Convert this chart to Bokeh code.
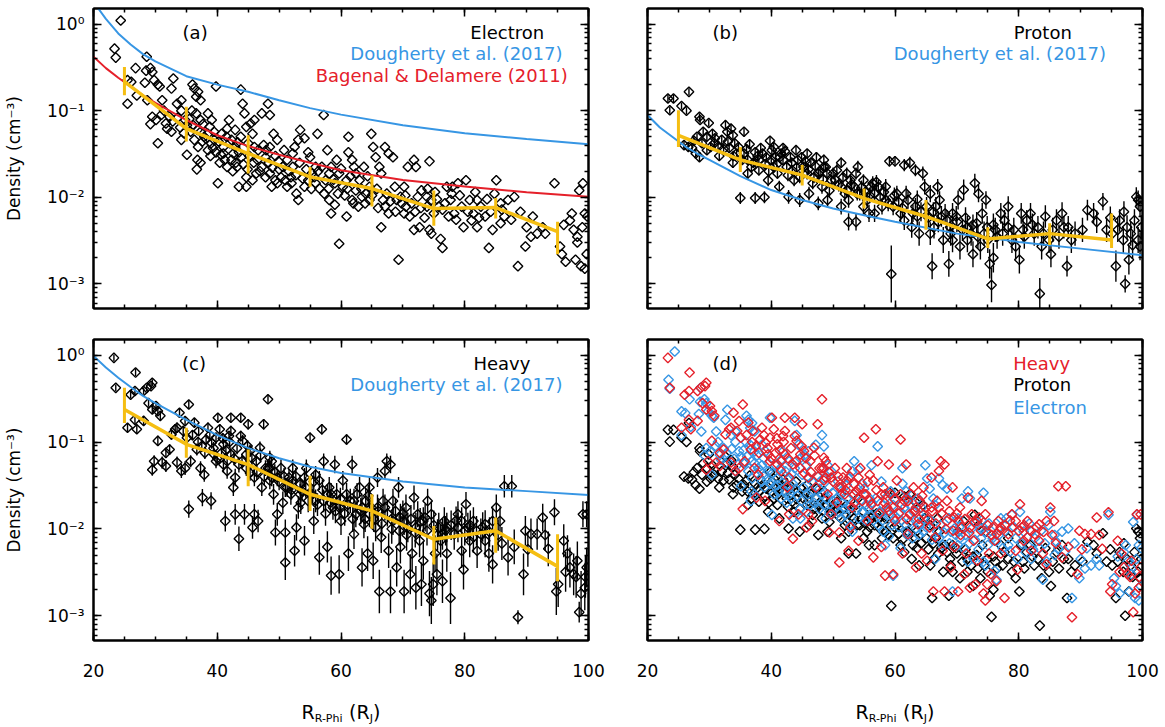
import numpy as np
from bokeh.plotting import figure
from bokeh.layouts import column, row
from bokeh.models import (Range1d, LinearAxis, LogAxis, SingleIntervalTicker,
                          LogTicker, CustomJSTickFormatter, Label)
from bokeh.core.properties import value
from bokeh.embed import file_html
from bokeh.resources import INLINE

FONT = "DejaVu Sans"
BLUE = "#3796e4"
RED = "#e5202a"
GOLD = "#f5be12"

# ---------------------------------------------------------------- data
# electron density samples: (R_R-Phi [R_J], n [cm^-3])
electron = [
    (24.4, 1.1), (23.4, 0.52), (23.6, 0.41), (25.5, 0.225), (26.1, 0.215), (25.5, 0.12),
    (26.8, 0.31), (27.0, 0.15), (28.6, 0.42), (28.5, 0.29), (29.2, 0.31), (29.5, 0.28),
    (28.3, 0.21), (29.8, 0.225), (30.4, 0.2), (30.7, 0.19), (28.7, 0.132), (29.5, 0.085),
    (29.2, 0.07), (30.1, 0.078), (30.4, 0.042), (31.1, 0.132), (31.4, 0.1), (31.7, 0.071),
    (32.3, 0.085), (32.6, 0.057), (32.6, 0.18), (32.9, 0.235), (33.5, 0.12), (34.2, 0.132),
    (34.2, 0.1), (34.8, 0.078), (35.1, 0.068), (34.2, 0.046), (35.1, 0.031), (36.0, 0.2),
    (36.3, 0.18), (36.6, 0.145), (37.3, 0.132), (36.9, 0.165), (35.9, 0.1), (36.6, 0.093),
    (37.3, 0.078), (35.7, 0.057), (36.3, 0.046), (36.9, 0.038), (36.8, 0.027), (37.3, 0.025),
    (36.7, 0.021), (37.6, 0.044), (37.9, 0.05), (38.5, 0.054), (38.8, 0.065), (39.1, 0.078),
    (38.5, 0.093), (39.8, 0.19), (38.5, 0.035), (39.0, 0.042), (39.5, 0.046), (39.8, 0.033),
    (40.1, 0.0145), (40.4, 0.025), (41.0, 0.038), (40.7, 0.054), (41.6, 0.062), (41.9, 0.078),
    (42.3, 0.046), (42.9, 0.038), (42.6, 0.032), (43.5, 0.033), (42.3, 0.027), (41.6, 0.0224),
    (43.2, 0.0224), (43.8, 0.175), (44.1, 0.12), (44.4, 0.093), (44.7, 0.065), (45.4, 0.071),
    (46.0, 0.078), (45.7, 0.054), (45.0, 0.042), (46.0, 0.038), (46.6, 0.035), (43.5, 0.0132),
    (44.7, 0.017), (44.7, 0.0132), (45.7, 0.0157), (46.3, 0.0188), (47.2, 0.0224), (47.8, 0.029),
    (48.5, 0.038), (48.2, 0.12), (48.5, 0.089), (47.2, 0.093), (49.1, 0.054), (49.7, 0.046),
    (48.5, 0.0188), (49.4, 0.0157), (50.0, 0.021), (50.6, 0.0224), (51.0, 0.0157), (51.3, 0.0132),
    (51.9, 0.017), (51.3, 0.027), (52.2, 0.032), (52.5, 0.038), (53.1, 0.046), (54.1, 0.048),
    (53.4, 0.06), (52.8, 0.011), (53.1, 0.0093), (54.1, 0.0132), (54.7, 0.0157), (55.3, 0.0188),
    (55.9, 0.0224), (55.0, 0.029), (54.7, 0.033), (56.2, 0.054), (57.2, 0.089), (55.9, 0.0145),
    (56.5, 0.0126), (57.5, 0.0157), (58.1, 0.0093), (58.4, 0.0065), (59.0, 0.0082), (58.4, 0.0224),
    (59.3, 0.027), (59.7, 0.0188), (59.7, 0.0029), (60.3, 0.0132), (60.9, 0.0157), (61.2, 0.05),
    (61.2, 0.033), (61.8, 0.027), (62.1, 0.0224), (62.4, 0.0188), (63.0, 0.0157), (62.4, 0.012),
    (60.9, 0.006), (61.8, 0.0093), (62.8, 0.0078), (63.7, 0.0224), (64.0, 0.011), (64.6, 0.0132),
    (64.9, 0.054), (65.2, 0.038), (65.6, 0.029), (66.2, 0.0224), (66.5, 0.0188), (66.8, 0.0093),
    (66.5, 0.0045), (67.1, 0.0078), (67.7, 0.0065), (67.1, 0.038), (67.7, 0.032), (68.4, 0.029),
    (68.7, 0.0132), (69.3, 0.0019), (69.6, 0.0101), (70.2, 0.0132), (70.5, 0.0078), (70.8, 0.0224),
    (71.8, 0.027), (72.1, 0.0224), (71.1, 0.006), (71.8, 0.0042), (72.7, 0.0045), (72.4, 0.0101),
    (73.0, 0.012), (73.9, 0.0101), (73.9, 0.0078), (74.3, 0.0042), (74.6, 0.0038), (74.3, 0.026),
    (75.2, 0.0115), (75.8, 0.0078), (76.1, 0.0033), (76.4, 0.0026), (77.1, 0.0132), (77.7, 0.0093),
    (78.3, 0.0065), (78.9, 0.0145), (79.5, 0.0078), (79.8, 0.0045), (80.2, 0.0157), (80.8, 0.0093),
    (81.4, 0.0065), (82.0, 0.0093), (82.6, 0.0078), (83.3, 0.006), (83.9, 0.0026), (84.5, 0.0042),
    (84.8, 0.011), (85.1, 0.0157), (85.8, 0.0085), (86.4, 0.006), (87.0, 0.0093), (88.0, 0.0101),
    (88.6, 0.0016), (89.8, 0.0027), (90.7, 0.0035), (91.7, 0.0038), (92.6, 0.0045), (94.5, 0.0145),
    (95.4, 0.0027), (95.7, 0.0022), (96.3, 0.0018), (97.0, 0.0054), (97.6, 0.0042), (98.2, 0.0035),
    (98.5, 0.012), (99.1, 0.0145), (99.4, 0.0065), (99.7, 0.0022), (97.9, 0.0019), (98.8, 0.0016),
    (99.4, 0.0015), (98.2, 0.003), (37.3, 0.057), (39.5, 0.057), (41.0, 0.032), (42.9, 0.06),
    (43.8, 0.05), (47.8, 0.017), (48.8, 0.0132), (49.7, 0.0145), (52.2, 0.0224), (57.8, 0.035),
    (58.1, 0.0188), (59.0, 0.0145), (63.4, 0.0101), (64.6, 0.0093), (69.0, 0.0093), (70.2, 0.0065),
    (74.6, 0.0093), (76.4, 0.0072), (77.4, 0.006), (78.0, 0.0132), (81.1, 0.0054), (82.0, 0.0045),
    (85.8, 0.005), (31.0, 0.09), (31.9, 0.062), (32.8, 0.075), (33.6, 0.083), (34.0, 0.064),
    (34.6, 0.055), (35.5, 0.08), (36.1, 0.068), (36.8, 0.06), (37.7, 0.07), (38.2, 0.047),
    (38.9, 0.03), (39.3, 0.037), (40.2, 0.044), (40.6, 0.031), (41.2, 0.027), (41.5, 0.05),
    (42.0, 0.042), (42.5, 0.02), (43.0, 0.025), (43.3, 0.043), (43.9, 0.029), (44.2, 0.024),
    (44.9, 0.021), (45.2, 0.03), (45.9, 0.025), (46.5, 0.027), (46.9, 0.02), (47.5, 0.04),
    (47.9, 0.035), (48.3, 0.025), (48.9, 0.022), (49.4, 0.03), (49.9, 0.026), (50.3, 0.017),
    (50.8, 0.035), (51.6, 0.02), (52.0, 0.0145), (52.7, 0.018), (53.3, 0.025), (53.8, 0.0165),
    (54.4, 0.021), (55.2, 0.0125), (55.7, 0.017), (56.3, 0.02), (56.9, 0.0225), (57.3, 0.011),
    (58.0, 0.0125), (58.8, 0.016), (59.5, 0.011), (60.0, 0.0215), (60.6, 0.0105), (61.0, 0.0125),
    (61.5, 0.0175), (62.0, 0.0085), (63.3, 0.0125), (63.9, 0.0085), (64.3, 0.0175), (65.0, 0.0105),
    (65.8, 0.0125), (66.0, 0.0075), (67.4, 0.011), (68.0, 0.009), (68.8, 0.0068), (69.8, 0.0085),
    (70.4, 0.0105), (71.4, 0.0085), (72.0, 0.0068), (72.9, 0.0075), (73.5, 0.0058), (74.0, 0.0125),
    (75.0, 0.0065), (75.5, 0.0095), (76.8, 0.0085), (77.9, 0.011), (78.6, 0.0055), (79.2, 0.0105),
    (80.5, 0.0068), (81.7, 0.0115), (82.3, 0.0058), (83.6, 0.0095), (84.2, 0.0068), (86.0, 0.0072),
    (87.5, 0.0055), (89.0, 0.0068), (90.0, 0.0045), (91.0, 0.006), (93.0, 0.0038), (96.0, 0.0048),
    (97.3, 0.0065), (99.0, 0.0045), (99.8, 0.006),
]

# proton density samples: (R, n, half error bar in dex)
proton = [
    (23.3, 0.138, 0.04), (24.2, 0.138, 0.04), (23.6, 0.101, 0.04), (26.7, 0.165, 0.04),
    (25.5, 0.113, 0.04), (26.3, 0.1, 0.04), (25.9, 0.04, 0.05), (26.6, 0.038, 0.05),
    (27.2, 0.037, 0.05), (28.4, 0.085, 0.04), (28.5, 0.078, 0.04), (29.9, 0.072, 0.04),
    (29.0, 0.057, 0.05), (29.6, 0.05, 0.05), (30.5, 0.054, 0.05), (27.8, 0.032, 0.05),
    (28.4, 0.029, 0.05), (29.6, 0.035, 0.05), (30.8, 0.042, 0.05), (31.4, 0.038, 0.05),
    (32.0, 0.046, 0.05), (32.6, 0.068, 0.05), (32.9, 0.057, 0.05), (33.5, 0.062, 0.05),
    (33.8, 0.052, 0.05), (35.6, 0.057, 0.05), (33.2, 0.037, 0.05), (34.1, 0.042, 0.05),
    (33.8, 0.025, 0.06), (34.4, 0.032, 0.05), (35.0, 0.0098, 0.07), (35.6, 0.032, 0.05),
    (36.2, 0.027, 0.06), (36.8, 0.0224, 0.06), (37.4, 0.033, 0.05), (37.4, 0.0098, 0.07),
    (38.9, 0.01, 0.07), (38.0, 0.027, 0.06), (38.6, 0.032, 0.05), (39.2, 0.029, 0.06),
    (39.8, 0.045, 0.05), (40.1, 0.035, 0.05), (40.7, 0.029, 0.06), (40.4, 0.0224, 0.06),
    (41.0, 0.0188, 0.06), (41.9, 0.027, 0.06), (41.6, 0.032, 0.05), (42.5, 0.0224, 0.06),
    (43.1, 0.029, 0.06), (43.4, 0.0205, 0.06), (43.7, 0.0157, 0.07), (44.3, 0.027, 0.06),
    (44.9, 0.029, 0.06), (45.2, 0.0224, 0.06), (45.8, 0.0188, 0.07), (46.4, 0.025, 0.06),
    (46.7, 0.0145, 0.07), (47.6, 0.0188, 0.07), (47.6, 0.0085, 0.08), (48.5, 0.027, 0.06),
    (48.8, 0.0224, 0.06), (49.7, 0.0157, 0.07), (50.0, 0.0188, 0.07), (50.6, 0.0205, 0.07),
    (51.3, 0.0132, 0.08), (51.9, 0.011, 0.08), (52.5, 0.0052, 0.1), (53.7, 0.0188, 0.07),
    (53.7, 0.0052, 0.1), (54.3, 0.011, 0.08), (54.9, 0.0157, 0.07), (55.5, 0.0093, 0.09),
    (56.1, 0.0132, 0.08), (56.7, 0.0065, 0.1), (57.0, 0.015, 0.08), (57.3, 0.0132, 0.08),
    (57.9, 0.0078, 0.09), (58.5, 0.0093, 0.09), (59.1, 0.026, 0.06), (60.0, 0.026, 0.06),
    (59.4, 0.0013, 0.33), (60.3, 0.011, 0.09), (60.9, 0.0065, 0.1), (61.5, 0.0235, 0.07),
    (62.1, 0.0093, 0.1), (62.4, 0.025, 0.07), (63.3, 0.0205, 0.07), (63.6, 0.006, 0.12),
    (63.9, 0.0038, 0.14), (64.5, 0.0188, 0.08), (64.8, 0.0132, 0.09), (65.1, 0.0078, 0.11),
    (65.7, 0.011, 0.1), (66.0, 0.0016, 0.15), (66.3, 0.0045, 0.13), (66.9, 0.0132, 0.09),
    (67.2, 0.0093, 0.1), (67.5, 0.006, 0.12), (67.8, 0.0032, 0.15), (68.7, 0.0017, 0.15),
    (69.0, 0.0038, 0.14), (69.3, 0.0065, 0.12), (69.9, 0.006, 0.12), (70.5, 0.0027, 0.15),
    (71.1, 0.0122, 0.12), (71.7, 0.0045, 0.13), (72.3, 0.0038, 0.14), (72.9, 0.0145, 0.11),
    (73.2, 0.005, 0.13), (73.5, 0.011, 0.1), (74.1, 0.0065, 0.12), (74.4, 0.0038, 0.14),
    (74.7, 0.0093, 0.1), (75.0, 0.0032, 0.15), (75.3, 0.0017, 0.17), (75.6, 0.00097, 0.2),
    (75.9, 0.002, 0.17), (76.5, 0.0035, 0.14), (77.1, 0.0065, 0.12), (77.7, 0.0054, 0.12),
    (78.3, 0.0045, 0.13), (78.9, 0.0032, 0.15), (79.5, 0.0027, 0.15), (80.1, 0.0019, 0.16),
    (80.7, 0.0042, 0.14), (81.3, 0.0054, 0.12), (81.9, 0.0065, 0.12), (82.5, 0.0038, 0.14),
    (83.4, 0.00077, 0.18), (83.7, 0.0027, 0.15), (84.3, 0.006, 0.13), (84.9, 0.0032, 0.15),
    (85.5, 0.0042, 0.14), (86.1, 0.0054, 0.13), (87.0, 0.0065, 0.13), (87.8, 0.0016, 0.12),
    (88.5, 0.0032, 0.15), (89.1, 0.0038, 0.14), (91.1, 0.0071, 0.12), (92.1, 0.0065, 0.12),
    (93.6, 0.0089, 0.1), (94.2, 0.0042, 0.14), (95.1, 0.0038, 0.14), (95.7, 0.0016, 0.18),
    (96.3, 0.0054, 0.13), (96.9, 0.0032, 0.15), (97.2, 0.001, 0.1), (97.5, 0.0045, 0.14),
    (97.8, 0.0019, 0.17), (98.1, 0.0038, 0.14), (98.7, 0.0054, 0.13), (99.0, 0.0101, 0.11),
    (99.3, 0.0032, 0.15), (99.6, 0.0078, 0.12), (99.6, 0.0027, 0.16), (99.3, 0.0093, 0.11),
    (36.2, 0.0188, 0.06), (38.0, 0.0205, 0.06), (39.5, 0.0157, 0.07), (41.3, 0.0132, 0.07),
    (42.8, 0.0101, 0.08), (44.6, 0.0093, 0.08), (46.1, 0.011, 0.08), (48.2, 0.0132, 0.08),
    (49.1, 0.0093, 0.09), (51.3, 0.0078, 0.09), (52.5, 0.0093, 0.09), (53.4, 0.0132, 0.08),
    (54.9, 0.0078, 0.09), (55.8, 0.0065, 0.1), (56.7, 0.011, 0.09), (58.5, 0.0132, 0.09),
    (59.7, 0.0078, 0.1), (61.5, 0.0054, 0.11), (62.7, 0.0045, 0.12), (63.3, 0.0078, 0.1),
    (65.7, 0.0038, 0.13), (66.6, 0.0078, 0.11), (68.4, 0.0054, 0.12), (69.3, 0.0032, 0.14),
    (70.2, 0.0093, 0.11), (71.7, 0.0032, 0.14), (72.6, 0.0022, 0.15), (73.8, 0.0027, 0.15),
    (76.2, 0.0042, 0.14), (78.3, 0.0078, 0.12), (80.4, 0.0065, 0.12), (83.1, 0.0045, 0.13),
    (85.2, 0.0022, 0.15), (87.3, 0.0045, 0.13), (40.4, 0.038, 0.05), (41.9, 0.037, 0.05),
    (44.0, 0.035, 0.05), (45.8, 0.032, 0.05), (47.3, 0.029, 0.06), (48.5, 0.0224, 0.06),
    (51.3, 0.025, 0.06), (52.2, 0.0188, 0.07), (52.8, 0.0157, 0.07), (54.0, 0.0224, 0.07),
    (27.5, 0.045, 0.04), (28.0, 0.05, 0.04), (28.8, 0.042, 0.05), (30.2, 0.038, 0.05),
    (30.9, 0.048, 0.05), (31.6, 0.03, 0.05), (32.3, 0.036, 0.05), (33.0, 0.044, 0.05),
    (33.9, 0.03, 0.05), (34.7, 0.038, 0.05), (35.3, 0.027, 0.05), (36.0, 0.036, 0.05),
    (36.5, 0.041, 0.05), (37.1, 0.025, 0.06), (37.8, 0.03, 0.05), (38.3, 0.037, 0.05),
    (39.0, 0.024, 0.06), (39.6, 0.02, 0.06), (40.0, 0.027, 0.06), (40.9, 0.024, 0.06),
    (41.4, 0.029, 0.06), (42.2, 0.034, 0.05), (42.7, 0.018, 0.07), (43.3, 0.025, 0.06),
    (44.1, 0.022, 0.06), (44.6, 0.017, 0.07), (45.5, 0.026, 0.06), (46.0, 0.021, 0.06),
    (46.9, 0.017, 0.07), (47.1, 0.023, 0.06), (47.9, 0.02, 0.07), (48.4, 0.016, 0.07),
    (49.0, 0.019, 0.07), (49.4, 0.012, 0.08), (50.3, 0.016, 0.07), (50.9, 0.014, 0.08),
    (51.6, 0.017, 0.07), (52.2, 0.012, 0.08), (53.0, 0.014, 0.08), (53.9, 0.011, 0.08),
    (54.6, 0.013, 0.08), (55.2, 0.0115, 0.08), (55.9, 0.0105, 0.09), (56.4, 0.0145, 0.08),
    (57.6, 0.01, 0.09), (58.2, 0.0115, 0.09), (58.9, 0.0085, 0.09), (59.9, 0.0105, 0.09),
    (60.6, 0.0088, 0.1), (61.2, 0.0075, 0.1), (61.8, 0.011, 0.09), (62.9, 0.0065, 0.1),
    (63.6, 0.0095, 0.1), (64.2, 0.0068, 0.11), (65.4, 0.0058, 0.11), (66.2, 0.0068, 0.11),
    (67.0, 0.0052, 0.12), (68.1, 0.0065, 0.11), (68.9, 0.0045, 0.12), (70.0, 0.0052, 0.12),
    (70.9, 0.0042, 0.13), (71.4, 0.0058, 0.12), (72.6, 0.0048, 0.12), (73.4, 0.0035, 0.14),
    (74.9, 0.0045, 0.13), (75.9, 0.0048, 0.13), (77.4, 0.0038, 0.14), (79.2, 0.0042, 0.14),
    (80.9, 0.0035, 0.14), (82.2, 0.0048, 0.13), (84.0, 0.0038, 0.14), (86.5, 0.0035, 0.14),
    (88.0, 0.0045, 0.13), (90.3, 0.0042, 0.14), (92.6, 0.0052, 0.13), (94.8, 0.0058, 0.13),
    (96.0, 0.0042, 0.14), (98.4, 0.0028, 0.16), (99.8, 0.0045, 0.14), (97.0, 0.0068, 0.12),
]

# heavy ion density samples: (R, n, half error bar in dex)
heavy = [
    (23.3, 0.93, 0.04), (23.6, 0.42, 0.04), (25.5, 0.146, 0.05), (26.0, 0.35, 0.04),
    (26.7, 0.386, 0.04), (26.8, 0.63, 0.04), (26.7, 0.18, 0.05), (28.1, 0.175, 0.05),
    (27.0, 0.14, 0.05), (28.1, 0.386, 0.04), (28.6, 0.42, 0.04), (29.5, 0.48, 0.04),
    (29.3, 0.44, 0.04), (28.9, 0.28, 0.04), (29.5, 0.237, 0.05), (30.1, 0.26, 0.05),
    (30.4, 0.227, 0.05), (30.8, 0.2, 0.05), (29.5, 0.048, 0.07), (29.8, 0.06, 0.07),
    (31.1, 0.058, 0.07), (31.7, 0.053, 0.07), (30.4, 0.103, 0.06), (31.7, 0.075, 0.06),
    (32.3, 0.082, 0.06), (32.6, 0.122, 0.06), (33.2, 0.14, 0.06), (33.5, 0.146, 0.06),
    (33.9, 0.217, 0.05), (34.8, 0.174, 0.05), (35.4, 0.27, 0.05), (34.5, 0.134, 0.06),
    (35.1, 0.112, 0.06), (35.4, 0.0169, 0.1), (33.5, 0.058, 0.07), (34.2, 0.0464, 0.08),
    (34.8, 0.05, 0.08), (35.7, 0.06, 0.07), (36.3, 0.167, 0.05), (36.7, 0.082, 0.07),
    (37.0, 0.134, 0.06), (37.3, 0.05, 0.08), (37.6, 0.0229, 0.1), (37.9, 0.042, 0.08),
    (38.2, 0.107, 0.06), (38.5, 0.146, 0.06), (39.0, 0.021, 0.1), (39.1, 0.098, 0.07),
    (39.5, 0.072, 0.07), (39.8, 0.112, 0.06), (40.1, 0.19, 0.05), (40.4, 0.14, 0.06),
    (40.7, 0.075, 0.07), (41.0, 0.094, 0.07), (41.3, 0.0123, 0.12), (41.6, 0.06, 0.08),
    (41.9, 0.117, 0.06), (42.2, 0.134, 0.06), (42.6, 0.03, 0.1), (42.2, 0.19, 0.05),
    (43.8, 0.19, 0.05), (42.9, 0.0147, 0.12), (43.5, 0.0077, 0.14), (43.8, 0.117, 0.06),
    (44.1, 0.103, 0.07), (44.4, 0.0147, 0.12), (44.7, 0.072, 0.08), (45.0, 0.16, 0.06),
    (45.3, 0.044, 0.09), (45.7, 0.0104, 0.13), (46.0, 0.0147, 0.12), (46.3, 0.06, 0.08),
    (46.6, 0.0123, 0.13), (46.9, 0.086, 0.07), (47.2, 0.03, 0.1), (47.5, 0.16, 0.06),
    (48.2, 0.31, 0.05), (47.8, 0.05, 0.09), (48.5, 0.066, 0.08), (48.8, 0.039, 0.1),
    (49.1, 0.025, 0.12), (49.4, 0.0091, 0.15), (49.7, 0.0147, 0.13), (50.3, 0.05, 0.1),
    (50.6, 0.02, 0.13), (51.0, 0.0041, 0.2), (51.0, 0.0091, 0.15), (51.6, 0.039, 0.1),
    (51.9, 0.025, 0.12), (52.2, 0.036, 0.11), (52.5, 0.0056, 0.18), (52.8, 0.0104, 0.15),
    (53.1, 0.0176, 0.13), (53.4, 0.0326, 0.11), (53.7, 0.0273, 0.12), (54.1, 0.0073, 0.17),
    (54.4, 0.05, 0.1), (54.7, 0.021, 0.13), (55.0, 0.112, 0.06), (55.3, 0.025, 0.12),
    (55.6, 0.0123, 0.15), (55.9, 0.042, 0.1), (56.5, 0.0047, 0.2), (56.9, 0.14, 0.06),
    (57.2, 0.06, 0.09), (57.2, 0.021, 0.13), (57.8, 0.0062, 0.18), (58.1, 0.03, 0.12),
    (58.4, 0.0029, 0.22), (58.7, 0.0176, 0.14), (59.0, 0.055, 0.1), (59.3, 0.025, 0.13),
    (59.7, 0.003, 0.22), (60.0, 0.0123, 0.16), (60.3, 0.036, 0.11), (60.9, 0.107, 0.06),
    (61.2, 0.0052, 0.2), (61.5, 0.021, 0.14), (61.8, 0.055, 0.1), (62.1, 0.0087, 0.17),
    (62.4, 0.0147, 0.15), (63.0, 0.03, 0.12), (63.4, 0.0036, 0.22), (63.7, 0.0113, 0.16),
    (64.0, 0.021, 0.14), (64.3, 0.0052, 0.2), (64.6, 0.03, 0.12), (64.9, 0.0176, 0.14),
    (65.2, 0.0043, 0.21), (65.6, 0.0104, 0.16), (65.9, 0.039, 0.11), (66.2, 0.0019, 0.25),
    (66.5, 0.008, 0.18), (66.8, 0.021, 0.14), (67.1, 0.0464, 0.1), (67.4, 0.06, 0.09),
    (68.0, 0.055, 0.1), (67.7, 0.0056, 0.2), (68.0, 0.0019, 0.25), (68.4, 0.0123, 0.16),
    (69.0, 0.0036, 0.22), (69.3, 0.03, 0.12), (69.6, 0.0062, 0.19), (70.2, 0.0019, 0.25),
    (70.5, 0.0176, 0.15), (70.8, 0.0104, 0.17), (71.2, 0.003, 0.23), (71.5, 0.0052, 0.2),
    (71.8, 0.0229, 0.14), (72.1, 0.0021, 0.25), (72.4, 0.0147, 0.15), (72.7, 0.0073, 0.19),
    (73.0, 0.0023, 0.25), (73.3, 0.0043, 0.22), (73.6, 0.0135, 0.16), (74.0, 0.021, 0.14),
    (74.3, 0.0018, 0.26), (74.6, 0.0015, 0.27), (74.9, 0.0023, 0.25), (75.2, 0.0052, 0.21),
    (75.5, 0.003, 0.24), (75.8, 0.0104, 0.17), (76.1, 0.0073, 0.19), (76.4, 0.0025, 0.25),
    (76.7, 0.0123, 0.16), (77.1, 0.0052, 0.21), (77.7, 0.0016, 0.3), (78.3, 0.0087, 0.18),
    (78.9, 0.0147, 0.15), (79.5, 0.0056, 0.2), (79.8, 0.0034, 0.23), (80.2, 0.0192, 0.14),
    (80.5, 0.0104, 0.17), (80.8, 0.0073, 0.19), (81.4, 0.0123, 0.16), (82.0, 0.0056, 0.2),
    (82.6, 0.0087, 0.18), (83.3, 0.0113, 0.16), (83.9, 0.0052, 0.21), (84.5, 0.0039, 0.22),
    (85.1, 0.0176, 0.15), (85.7, 0.0123, 0.16), (86.4, 0.031, 0.13), (87.0, 0.0047, 0.21),
    (87.6, 0.031, 0.13), (88.6, 0.00096, 0.08), (89.5, 0.003, 0.24), (89.8, 0.0095, 0.17),
    (90.7, 0.0087, 0.18), (91.7, 0.0087, 0.18), (92.6, 0.0135, 0.16), (93.5, 0.0059, 0.2),
    (94.5, 0.0155, 0.15), (94.8, 0.0019, 0.27), (95.1, 0.0023, 0.26), (96.0, 0.0073, 0.19),
    (96.6, 0.0052, 0.21), (97.0, 0.0036, 0.23), (97.6, 0.003, 0.24), (98.2, 0.0043, 0.22),
    (98.5, 0.0011, 0.12), (98.8, 0.0018, 0.26), (99.1, 0.0147, 0.15), (99.4, 0.0021, 0.26),
    (99.7, 0.0036, 0.23), (99.7, 0.0147, 0.15), (39.8, 0.06, 0.08), (41.6, 0.0464, 0.09),
    (42.9, 0.039, 0.1), (43.5, 0.055, 0.09), (45.3, 0.079, 0.07), (48.5, 0.05, 0.09),
    (49.7, 0.039, 0.1), (52.2, 0.05, 0.1), (54.1, 0.039, 0.11), (56.5, 0.036, 0.11),
    (57.8, 0.025, 0.12), (60.9, 0.025, 0.13), (62.1, 0.021, 0.14), (63.4, 0.0176, 0.15),
    (67.1, 0.0176, 0.15), (69.6, 0.0135, 0.16), (73.3, 0.0123, 0.16), (76.4, 0.0087, 0.18),
    (78.9, 0.0104, 0.17), (81.4, 0.008, 0.18), (83.3, 0.0073, 0.19), (84.5, 0.0123, 0.16),
    (79.5, 0.0123, 0.16), (77.1, 0.0104, 0.17), (74.6, 0.0147, 0.15), (72.1, 0.0104, 0.17),
    (70.2, 0.0123, 0.16), (68.4, 0.021, 0.14), (65.9, 0.0176, 0.15), (64.6, 0.0147, 0.15),
    (59.7, 0.0176, 0.14), (58.4, 0.025, 0.13), (55.9, 0.021, 0.13), (53.4, 0.025, 0.12),
    (51.0, 0.03, 0.11), (48.5, 0.036, 0.1), (46.0, 0.039, 0.1), (44.7, 0.05, 0.09),
    (42.2, 0.072, 0.08), (41.0, 0.055, 0.09), (36.0, 0.12, 0.06), (36.9, 0.1, 0.06),
    (37.5, 0.09, 0.07), (38.0, 0.075, 0.07), (38.8, 0.12, 0.06), (39.4, 0.085, 0.07),
    (40.0, 0.065, 0.07), (40.9, 0.11, 0.06), (41.4, 0.08, 0.07), (42.0, 0.1, 0.07),
    (42.7, 0.065, 0.08), (43.2, 0.085, 0.07), (44.0, 0.06, 0.08), (44.9, 0.09, 0.07),
    (45.6, 0.065, 0.08), (46.4, 0.045, 0.09), (47.0, 0.07, 0.08), (47.6, 0.04, 0.1),
    (48.2, 0.05, 0.09), (48.8, 0.06, 0.08), (49.3, 0.045, 0.09), (50.0, 0.035, 0.1),
    (50.8, 0.04, 0.1), (51.3, 0.03, 0.11), (52.0, 0.028, 0.11), (52.7, 0.04, 0.1),
    (53.5, 0.02, 0.13), (54.3, 0.03, 0.12), (55.0, 0.025, 0.12), (55.6, 0.035, 0.11),
    (56.2, 0.019, 0.13), (57.0, 0.028, 0.12), (57.5, 0.015, 0.14), (58.3, 0.02, 0.13),
    (59.1, 0.016, 0.14), (59.9, 0.022, 0.13), (60.6, 0.015, 0.14), (61.1, 0.019, 0.14),
    (61.9, 0.013, 0.15), (62.6, 0.025, 0.13), (63.2, 0.016, 0.15), (63.9, 0.013, 0.15),
    (64.4, 0.024, 0.13), (65.3, 0.013, 0.15), (66.0, 0.016, 0.15), (66.6, 0.0115, 0.16),
    (67.5, 0.015, 0.15), (68.2, 0.01, 0.17), (68.8, 0.016, 0.15), (69.4, 0.0095, 0.17),
    (70.0, 0.015, 0.15), (70.6, 0.0085, 0.18), (71.3, 0.013, 0.16), (72.0, 0.009, 0.17),
    (72.8, 0.012, 0.16), (73.9, 0.0095, 0.17), (75.0, 0.011, 0.17), (75.6, 0.0085, 0.18),
    (76.9, 0.0095, 0.17), (77.8, 0.011, 0.17), (78.6, 0.0125, 0.16), (80.0, 0.0095, 0.17),
    (80.9, 0.011, 0.17), (81.9, 0.0095, 0.17), (82.9, 0.0105, 0.17), (84.0, 0.0092, 0.17),
    (85.4, 0.0085, 0.18), (86.0, 0.0068, 0.19), (88.0, 0.0062, 0.2), (90.2, 0.0058, 0.2),
    (93.0, 0.0085, 0.18), (96.3, 0.0032, 0.23), (98.0, 0.0028, 0.24), (99.5, 0.0028, 0.24),
]

# 10 R_J bin medians with spread
bin_r = [25, 35, 45, 55, 65, 75, 85, 95]
e_med = [0.216, 0.062, 0.032, 0.0172, 0.0126, 0.0074, 0.0076, 0.0040]
e_lo = [0.151, 0.044, 0.0188, 0.0132, 0.0078, 0.0047, 0.0057, 0.0022]
e_hi = [0.32, 0.111, 0.052, 0.0224, 0.018, 0.012, 0.0098, 0.0052]
p_med = [0.052, 0.027, 0.018, 0.0097, 0.0060, 0.0033, 0.0038, 0.0032]
p_lo = [0.038, 0.0196, 0.0137, 0.0074, 0.0042, 0.0026, 0.0028, 0.0026]
p_hi = [0.101, 0.038, 0.0235, 0.0126, 0.0093, 0.0045, 0.0050, 0.0065]
h_med = [0.237, 0.094, 0.055, 0.025, 0.0161, 0.0076, 0.0095, 0.0037]
h_lo = [0.166, 0.066, 0.031, 0.0161, 0.0100, 0.0039, 0.0053, 0.0025]
h_hi = [0.42, 0.146, 0.082, 0.041, 0.025, 0.0108, 0.0135, 0.0087]

# model profiles
model_r = [20, 22, 24, 26, 28, 30, 35, 40, 45, 50, 55, 60, 70, 80, 90, 100]
dougherty_e = [1.8, 1.15, 0.78, 0.58, 0.45, 0.37, 0.25, 0.2, 0.165, 0.132, 0.107, 0.09,
               0.068, 0.055, 0.047, 0.041]
bagenal_e = [0.42, 0.31, 0.24, 0.19, 0.15, 0.123, 0.078, 0.052, 0.039, 0.031, 0.025, 0.0205,
             0.0158, 0.0133, 0.0114, 0.0101]
dougherty_p = [0.089, 0.064, 0.05, 0.039, 0.032, 0.027, 0.0175, 0.0121, 0.0093, 0.0074,
               0.0062, 0.0052, 0.0038, 0.00305, 0.00255, 0.00214]
dougherty_h = [0.98, 0.72, 0.55, 0.43, 0.34, 0.28, 0.18, 0.12, 0.085, 0.065, 0.052, 0.044,
               0.035, 0.030, 0.0272, 0.0245]

Y_LO, Y_HI = 10 ** -3.285, 10 ** 0.18
TEXT_Y = [0.80, 0.455, 0.252]

SUP = CustomJSTickFormatter(code="""
const e = Math.round(Math.log10(tick));
const m = {"-": "\u207b", "0": "\u2070", "1": "\u00b9", "2": "\u00b2", "3": "\u00b3"};
return "10" + String(e).split("").map(c => m[c]).join("");
""")
BLANK = CustomJSTickFormatter(code="return '';")


def x_ticker():
    return SingleIntervalTicker(interval=20, num_minor_ticks=4)


def y_ticker():
    return LogTicker(mantissas=[1], num_minor_ticks=10)


def style(ax, labels, standoff):
    ax.axis_line_width = 2
    ax.axis_line_color = "black"
    ax.major_tick_in = 8
    ax.major_tick_out = 0
    ax.minor_tick_in = 4
    ax.minor_tick_out = 0
    ax.major_tick_line_width = 1.5
    ax.minor_tick_line_width = 1.5
    ax.major_tick_line_color = "black"
    ax.minor_tick_line_color = "black"
    ax.major_label_text_font = FONT
    ax.major_label_text_color = "black"
    ax.major_label_standoff = standoff
    ax.major_label_text_font_size = "17px" if labels else "0px"


def panel(frame_h, borders, left_labels, bottom_labels):
    p = figure(frame_width=495, frame_height=frame_h,
               x_range=Range1d(20, 100), y_range=Range1d(Y_LO, Y_HI),
               y_axis_type="log", output_backend="svg", toolbar_location=None,
               min_border_left=borders[0], min_border_right=borders[1],
               min_border_top=borders[2], min_border_bottom=borders[3],
               background_fill_color="white", border_fill_color="white")
    p.grid.visible = False
    p.outline_line_color = "black"
    p.outline_line_width = 2

    xa = p.xaxis[0]
    xa.ticker = x_ticker()
    xa.formatter = CustomJSTickFormatter(code="return tick.toFixed(0);") if bottom_labels else BLANK
    style(xa, bottom_labels, 23)

    ya = p.yaxis[0]
    ya.ticker = y_ticker()
    ya.formatter = SUP if left_labels else BLANK
    style(ya, left_labels, 9)
    if left_labels:
        ya.axis_label = "Density (cm\u207b\u00b3)"
        ya.axis_label_text_font = FONT
        ya.axis_label_text_font_size = "17px"
        ya.axis_label_text_font_style = "normal"
        ya.axis_label_text_color = "black"
        ya.axis_label_standoff = 20

    top = LinearAxis(ticker=x_ticker(), formatter=BLANK)
    style(top, False, 0)
    p.add_layout(top, "above")
    right = LogAxis(ticker=y_ticker(), formatter=BLANK)
    style(right, False, 0)
    p.add_layout(right, "right")
    return p


def text(p, x, y, s, color="black", size="18px"):
    p.add_layout(Label(x=x, y=y, text=s, text_font=FONT, text_font_size=size,
                       text_color=color, text_align="left", text_baseline="middle"))


def title_strip(borders):
    # strip under a bottom panel carrying the R_R-Phi (R_J) axis title
    t = figure(frame_width=495, frame_height=35, x_range=Range1d(20, 100),
               y_range=Range1d(0, 1), output_backend="svg", toolbar_location=None,
               min_border_left=borders[0], min_border_right=borders[1],
               min_border_top=0, min_border_bottom=0,
               x_axis_location=None, y_axis_location=None,
               background_fill_color="white", border_fill_color="white")
    t.grid.visible = False
    t.outline_line_color = None
    parts = [(53.6, 0.45, "R", "19px"), (55.75, 0.26, "R-Phi", "11px"),
             (61.3, 0.45, "(R", "19px"), (64.64, 0.26, "J", "11px"),
             (65.16, 0.45, ")", "19px")]
    for x, y, s, size in parts:
        t.text(x=[x], y=[y], text=[s], text_font=value(FONT), text_font_size=value(size),
               text_color="black", text_align="left", text_baseline="middle")
    return t


def hollow(p, xs, ys, color):
    p.scatter(xs, ys, marker="square", angle=np.pi / 4, size=6.8,
              fill_color=None, line_color=color, line_width=1.4)


def errbars(p, xs, ys, ds):
    ys = np.asarray(ys)
    f = 10 ** np.asarray(ds)
    p.segment(x0=xs, y0=ys / f, x1=xs, y1=ys * f, line_color="black", line_width=1.4)


def binned(p, med, lo, hi):
    p.line(bin_r, med, line_color=GOLD, line_width=3.5)
    p.segment(x0=bin_r, y0=lo, x1=bin_r, y1=hi, line_color=GOLD, line_width=3)


ex, ey = zip(*electron)
px_, py_, pd_ = zip(*proton)
hx, hy, hd = zip(*heavy)

# (a) electrons
pa = panel(300, (93, 20, 8, 15), True, False)
hollow(pa, ex, ey, "black")
pa.line(model_r, dougherty_e, line_color=BLUE, line_width=2)
pa.line(model_r, bagenal_e, line_color=RED, line_width=2)
binned(pa, e_med, e_lo, e_hi)
text(pa, 34.4, TEXT_Y[0], "(a)")
text(pa, 80.9, TEXT_Y[0], "Electron")
text(pa, 61.5, TEXT_Y[1], "Dougherty et al. (2017)", BLUE)
text(pa, 55.9, TEXT_Y[2], "Bagenal & Delamere (2011)", RED)

# (b) protons
pb = panel(300, (39, 23, 8, 15), False, False)
errbars(pb, px_, py_, pd_)
hollow(pb, px_, py_, "black")
pb.line(model_r, dougherty_p, line_color=BLUE, line_width=2)
binned(pb, p_med, p_lo, p_hi)
text(pb, 30.5, TEXT_Y[0], "(b)")
text(pb, 79.2, TEXT_Y[0], "Proton")
text(pb, 59.8, TEXT_Y[1], "Dougherty et al. (2017)", BLUE)

# (c) heavy ions
pc = panel(301, (93, 20, 16, 52), True, True)
errbars(pc, hx, hy, hd)
hollow(pc, hx, hy, "black")
pc.line(model_r, dougherty_h, line_color=BLUE, line_width=2)
binned(pc, h_med, h_lo, h_hi)
text(pc, 34.3, TEXT_Y[0], "(c)")
text(pc, 81.4, TEXT_Y[0], "Heavy")
text(pc, 61.5, TEXT_Y[1], "Dougherty et al. (2017)", BLUE)

# (d) all species together
pd = panel(301, (39, 23, 16, 52), False, True)
hollow(pd, px_, py_, "black")
hollow(pd, ex, ey, BLUE)
hollow(pd, hx, hy, RED)
text(pd, 30.5, TEXT_Y[0], "(d)")
text(pd, 79.1, TEXT_Y[0], "Heavy", RED)
text(pd, 79.1, TEXT_Y[1], "Proton")
text(pd, 79.1, TEXT_Y[2], "Electron", BLUE)

layout = column(row(pa, pb), row(pc, pd),
                row(title_strip((93, 20)), title_strip((39, 23))))
open("out.html", "w").write(file_html(layout, INLINE))
